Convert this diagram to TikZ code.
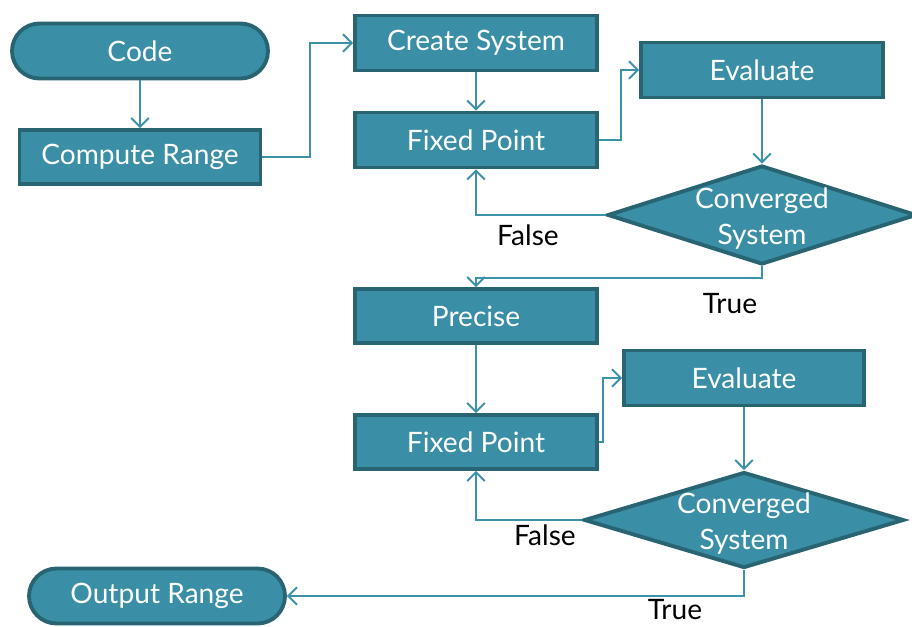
\documentclass[tikz,border=0pt]{standalone}
\usepackage{fontspec}
\setmainfont{Lato}
\usetikzlibrary{shapes.geometric,arrows.meta}
\definecolor{boxfill}{RGB}{58,143,166}
\definecolor{boxedge}{RGB}{40,100,114}
\definecolor{flowline}{RGB}{60,146,170}

\begin{document}
\begin{tikzpicture}[x=0.02cm, y=-0.02cm,
		every node/.style={font=\fontsize{16}{20}\selectfont},
		procbox/.style={rectangle, draw=boxedge, fill=boxfill, line width=2.2pt, text=white,
			minimum width=4.84cm, minimum height=1.1cm, inner sep=0pt},
		termbox/.style={procbox, rounded corners=0.55cm, minimum width=5.12cm},
		decision/.style={diamond, draw=boxedge, fill=boxfill, line width=2.2pt, inner sep=0pt},
		flow/.style={flowline, line width=1.1pt, -{Straight Barb[length=5pt,width=10pt]}},
		answer/.style={text=black, inner sep=1pt}]

			\useasboundingbox (0,0) rectangle (912,626);

			% left column
			\node[termbox] (code) at (140,51) {Code};
			\node[procbox, minimum width=4.82cm, minimum height=1.08cm] (compute) at (140,157) {Compute Range};
			\node[termbox] (output) at (157,596) {Output Range};

			% first loop
			\node[procbox] (create) at (476,43) {Create System};
			\node[procbox] (fix1) at (476,140) {Fixed Point};
			\node[procbox] (eval1) at (762,70) {Evaluate};
			\node[decision, minimum width=6.18cm, minimum height=1.98cm,
				label={[text=white, align=center, yshift=-2pt]center:Converged\\System}] (conv1) at (762,215) {};

			% second loop
			\node[procbox, minimum height=1.08cm] (precise) at (476,316) {Precise};
			\node[procbox, minimum height=1.08cm] (fix2) at (476,442) {Fixed Point};
			\node[procbox, minimum width=4.8cm] (eval2) at (744,378) {Evaluate};
			\node[decision, minimum width=6.4cm, minimum height=1.92cm,
				label={[text=white, align=center, yshift=-2pt]center:Converged\\System}] (conv2) at (744,520) {};

			% branch labels
			\node[answer] (false1) at (528,235) {False};
			\node[answer] (true1) at (730,304) {True};
			\node[answer] (false2) at (545,535) {False};
			\node[answer] (true2) at (675,610) {True};

			% connectors
			\draw[flow] (code) -- (compute);
			\draw[flow] (compute.east) -- ++(48,0) |- (create.west);
			\draw[flow] (create) -- (fix1);
			\draw[flow] (fix1.east) -- ++(22,0) |- (eval1.west);
			\draw[flow] (eval1) -- (conv1);
			\draw[flow] (conv1.west) -| (fix1.south);
			\draw[flow] (conv1.south) -- ++(0,12) -| (precise.north);
			\draw[flow] (precise) -- (fix2);
			\draw[flow] (fix2.east) -- ++(4,0) |- (eval2.west);
			\draw[flow] (eval2) -- (conv2);
			\draw[flow] (conv2.west) -| (fix2.south);
			\draw[flow] (conv2.south) |- (output.east);

		\end{tikzpicture}
\end{document}
